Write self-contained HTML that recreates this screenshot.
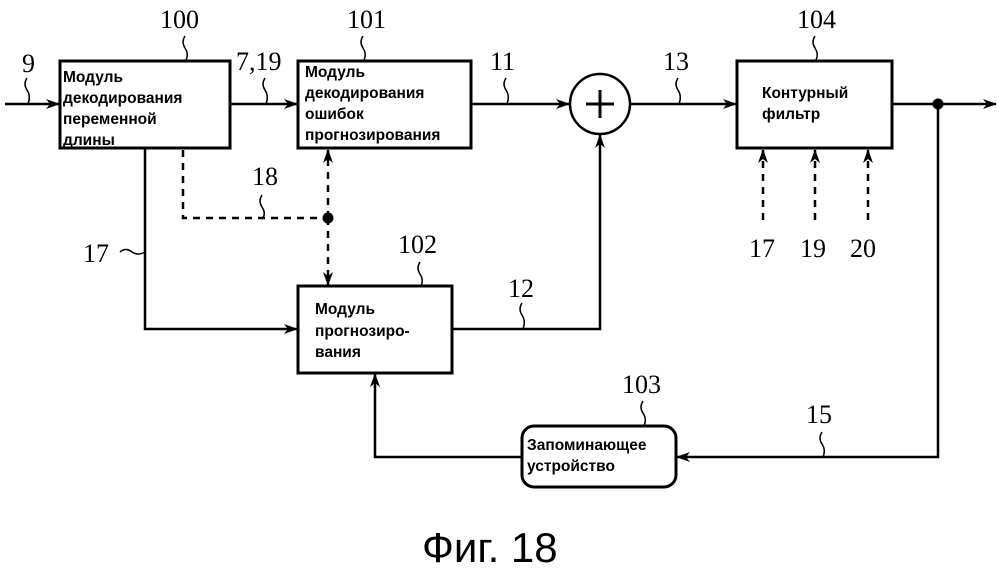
<!DOCTYPE html>
<html><head><meta charset="utf-8"><style>
html,body{margin:0;padding:0;background:#fff;}
svg{display:block;}
.n{font-family:"Liberation Serif",serif;font-size:26px;fill:#000;}
.b{font-family:"Liberation Sans","DejaVu Sans",sans-serif;font-size:15.5px;font-weight:bold;fill:#000;}
</style></head><body>
<svg width="1000" height="569" viewBox="0 0 1000 569" xmlns="http://www.w3.org/2000/svg">
<defs>
<marker id="a" markerWidth="14" markerHeight="10" refX="13" refY="5" orient="auto" markerUnits="userSpaceOnUse">
<path d="M0,0 L14,5 L0,10 L4,5 Z" fill="#000"/></marker>
</defs>
<g stroke="#000" fill="none">
<rect x="60" y="61" width="170" height="87" stroke-width="3"/>
<rect x="298" y="61" width="173" height="87" stroke-width="3"/>
<rect x="737" y="61" width="155" height="87" stroke-width="3"/>
<rect x="298" y="286" width="154" height="87" stroke-width="3"/>
<rect x="522" y="426" width="154" height="61" rx="12" stroke-width="3"/>
<circle cx="600" cy="104" r="30" stroke-width="2.5"/>
<path d="M586,104 H614 M600,90 V118" stroke-width="3"/>
<g stroke-width="2.5">
<path d="M5,104 H59" marker-end="url(#a)"/>
<path d="M230,104 H297" marker-end="url(#a)"/>
<path d="M471,104 H569" marker-end="url(#a)"/>
<path d="M630,104 H736" marker-end="url(#a)"/>
<path d="M892,104 H996" marker-end="url(#a)"/>
<path d="M452,329 H600 V135" marker-end="url(#a)"/>
<path d="M145,148 V329 H297" marker-end="url(#a)"/>
<path d="M938,104 V457 H677" marker-end="url(#a)"/>
<path d="M522,457 H375 V374" marker-end="url(#a)"/>
</g>
<g stroke-width="2.5" stroke-dasharray="7,6">
<path d="M183,150 V218 H328"/>
<path d="M328,218 V150" marker-end="url(#a)"/>
<path d="M328,218 V285" marker-end="url(#a)"/>
<path d="M763,220 V150" marker-end="url(#a)"/>
<path d="M815,220 V150" marker-end="url(#a)"/>
<path d="M868,220 V150" marker-end="url(#a)"/>
</g>
<g stroke-width="1.5">
<path d="M27,78 q-4,6 0,12 q4,6 1,14"/>
<path d="M185,36 q-4,6 0,12 q4,6 1,12"/>
<path d="M265,78 q-4,6 0,12 q4,6 1,14"/>
<path d="M363,36 q-4,6 0,12 q4,6 1,12"/>
<path d="M506,78 q-4,6 0,12 q4,6 1,14"/>
<path d="M678,78 q-4,6 0,12 q4,6 1,14"/>
<path d="M815,36 q-4,6 0,12 q4,6 1,12"/>
<path d="M262,195 q-4,6 0,12 q4,6 1,11"/>
<path d="M120,252 q6,-5 12,0 q6,4 13,0"/>
<path d="M420,262 q-4,6 0,12 q4,6 1,12"/>
<path d="M522,303 q-4,6 0,12 q4,6 1,14"/>
<path d="M643,401 q-4,6 0,12 q4,6 1,13"/>
<path d="M822,432 q-4,6 0,12 q4,6 1,13"/>
</g>
</g>
<circle cx="328" cy="218" r="5.5" fill="#000"/>
<circle cx="938" cy="104" r="5.5" fill="#000"/>
<text class="n" x="22" y="72">9</text>
<text class="n" x="160" y="28">100</text>
<text class="n" x="236" y="70">7,19</text>
<text class="n" x="347" y="28">101</text>
<text class="n" x="490" y="70">11</text>
<text class="n" x="663" y="70">13</text>
<text class="n" x="797" y="28">104</text>
<text class="n" x="252" y="185">18</text>
<text class="n" x="83" y="262">17</text>
<text class="n" x="398" y="253">102</text>
<text class="n" x="508" y="297">12</text>
<text class="n" x="622" y="393">103</text>
<text class="n" x="806" y="423">15</text>
<text class="n" x="749" y="257">17</text>
<text class="n" x="800" y="257">19</text>
<text class="n" x="850" y="257">20</text>
<text class="b" x="63" y="82">Модуль</text>
<text class="b" x="63" y="103">декодирования</text>
<text class="b" x="63" y="124">переменной</text>
<text class="b" x="63" y="145">длины</text>
<text class="b" x="305" y="77">Модуль</text>
<text class="b" x="305" y="98">декодирования</text>
<text class="b" x="305" y="119">ошибок</text>
<text class="b" x="305" y="140">прогнозирования</text>
<text class="b" x="762" y="98">Контурный</text>
<text class="b" x="762" y="119">фильтр</text>
<text class="b" x="315" y="314">Модуль</text>
<text class="b" x="315" y="336">прогнозиро-</text>
<text class="b" x="315" y="357">вания</text>
<text class="b" x="527" y="450">Запоминающее</text>
<text class="b" x="527" y="471">устройство</text>
<text x="422" y="562" style="font-family:'Liberation Sans',sans-serif;font-size:42px;fill:#000">Фиг. 18</text>
</svg>
</body></html>
